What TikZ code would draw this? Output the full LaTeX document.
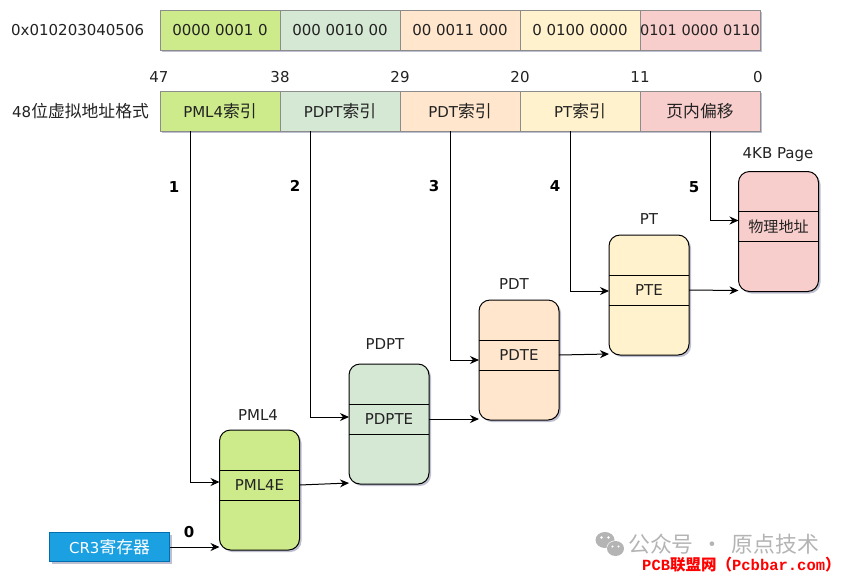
\documentclass[tikz,border=0pt]{standalone}
\usepackage{fontspec}
\setmainfont{DejaVu Sans}
\newfontfamily\cjk{Noto Sans CJK SC}[Scale=1.12]
\newfontfamily\cjkplain{Noto Sans CJK SC}
\newfontfamily\monofnt{Liberation Mono}
\usetikzlibrary{shadows,arrows.meta,calc}
\definecolor{cG}{HTML}{CDEB8B}
\definecolor{cLG}{HTML}{D5E8D4}
\definecolor{cO}{HTML}{FFE6CC}
\definecolor{cY}{HTML}{FFF2CC}
\definecolor{cP}{HTML}{F8CECC}
\definecolor{cB}{HTML}{1BA1E2}
\definecolor{cBs}{HTML}{006EAF}
\definecolor{txt}{HTML}{222222}
\definecolor{wm}{HTML}{B4B4B4}
\tikzset{
  shd/.style={drop shadow={shadow xshift=2pt,shadow yshift=-2pt,opacity=0.25,fill=black!70!blue}},
  cell/.style={draw=black!45,line width=1pt,minimum width=120pt,minimum height=40pt,inner sep=0pt,outer sep=0pt,
    font=\fontsize{15}{18}\selectfont,text=txt,shd},
  lbl/.style={font=\fontsize{15}{18}\selectfont,text=txt,inner sep=0pt},
  tbl/.style={draw=black,line width=1pt,rounded corners=11pt,minimum width=80pt,minimum height=120pt,inner sep=0pt,outer sep=0pt,shd},
  num/.style={font=\fontsize{15}{18}\selectfont\bfseries,text=black,inner sep=0pt},
  arr/.style={line width=1pt,-{Stealth[length=9pt,width=8pt]}},
}
\begin{document}
\begin{tikzpicture}[x=1pt,y=-1pt]
\useasboundingbox (0,0) rectangle (845,579);

% row 1
\node[lbl,anchor=west] (hex) at (11,30) {0x010203040506};
\node[cell,fill=cG]  (a1) at (220,30) {0000 0001 0};
\node[cell,fill=cLG] (a2) at (340,30) {000 0010 00};
\node[cell,fill=cO]  (a3) at (460,30) {00 0011 000};
\node[cell,fill=cY]  (a4) at (580,30) {0 0100 0000};
\node[cell,fill=cP,font=\fontsize{14.5}{18}\selectfont]  (a5) at (700,30) {0101 0000 0110};

% bit numbers
\node[lbl] (n47) at (159,77) {47};
\node[lbl] (n38) at (280,77) {38};
\node[lbl] (n29) at (400,77) {29};
\node[lbl] (n20) at (520,77) {20};
\node[lbl] (n11) at (640,77) {11};
\node[lbl] (n0)  at (758,77) {0};

% row 2
\node[lbl,anchor=west] (fmt) at (12,111) {48{\cjk 位虚拟地址格式}};
\node[cell,fill=cG]  (b1) at (220,111) {PML4{\cjk 索引}};
\node[cell,fill=cLG] (b2) at (340,111) {PDPT{\cjk 索引}};
\node[cell,fill=cO]  (b3) at (460,111) {PDT{\cjk 索引}};
\node[cell,fill=cY]  (b4) at (580,111) {PT{\cjk 索引}};
\node[cell,fill=cP]  (b5) at (700,111) {\cjk 页内偏移};

% tables
\node[tbl,fill=cG]  (t1) at (259.5,490) {};
\node[tbl,fill=cLG] (t2) at (389,424) {};
\node[tbl,fill=cO]  (t3) at (519,360) {};
\node[tbl,fill=cY]  (t4) at (649,295) {};
\node[tbl,fill=cP]  (t5) at (778.5,231.5) {};

\node[lbl] (h1) at (258,415) {PML4};
\node[lbl] (h2) at (385,344) {PDPT};
\node[lbl] (h3) at (514,284) {PDT};
\node[lbl] (h4) at (649,219) {PT};
\node[lbl] (h5) at (778,155) {4KB Page};

% dividers and entries
\foreach \t in {t1,t2,t3,t4,t5}{
  \draw[line width=1pt] ($(\t.north west)+(0,40)$) -- ($(\t.north east)+(0,40)$);
  \draw[line width=1pt] ($(\t.north west)+(0,70)$) -- ($(\t.north east)+(0,70)$);
}
\node[lbl] (e1) at ($(t1.north)+(0,55)$) {PML4E};
\node[lbl] (e2) at ($(t2.north)+(0,55)$) {PDPTE};
\node[lbl] (e3) at ($(t3.north)+(0,55)$) {PDTE};
\node[lbl] (e4) at ($(t4.north)+(0,55)$) {PTE};
\node[lbl,font=\fontsize{13.5}{16}\selectfont\cjk] (e5) at ($(t5.north)+(0,55)$) {物理地址};

% index connectors
\draw[arr] ($(b1.south)+(-30,0)$) |- ($(t1.north west)+(0,52)$);
\draw[arr] ($(b2.south)+(-30,0)$) |- ($(t2.north west)+(0,53)$);
\draw[arr] ($(b3.south)+(-10,0)$) |- ($(t3.north west)+(0,60)$);
\draw[arr] ($(b4.south)+(-10,0)$) |- ($(t4.north west)+(0,56)$);
\draw[arr] ($(b5.south)+(10,0)$) |- ($(t5.north west)+(0,49)$);

\node[num] (l1) at (174,187) {1};
\node[num] (l2) at (295,186) {2};
\node[num] (l3) at (434,186) {3};
\node[num] (l4) at (555,186) {4};
\node[num] (l5) at (694,187) {5};

% table to table
\draw[arr] (t1.east |- e1) -- ($(t2.south west)+(0,-1)$);
\draw[arr] (t2.east |- e2) -- ($(t3.south west)+(0,-1)$);
\draw[arr] (t3.east |- e3) -- ($(t4.south west)+(0,-1)$);
\draw[arr] (t4.east |- e4) -- ($(t5.south west)+(0,-1)$);

% CR3
\node[draw=cBs,fill=cB,line width=1pt,minimum width=120pt,minimum height=29pt,inner sep=0pt,
  text=white,font=\fontsize{15}{18}\selectfont,shd] (cr3) at (109.5,547) {CR3{\cjk 寄存器}};
\draw[arr] (cr3.east) -- (cr3.east -| t1.west);
\node[num] (l0) at (189,532) {0};

% watermark
\fill[wm] (605,540) ellipse [x radius=9.5, y radius=8];
\draw[white,line width=1.2pt] (615.5,548.5) ellipse [x radius=8.5, y radius=7.5];
\fill[wm] (615.5,548.5) ellipse [x radius=8.5, y radius=7.5];
\fill[white] (601.5,537.5) circle (1.4) (608.5,537.5) circle (1.4) (612.5,546.5) circle (1.1) (618.5,546.5) circle (1.1);
\node[anchor=west,inner sep=0pt,text=wm,font=\fontsize{19.5}{22}\selectfont\cjk] (wm1) at (628,544) {公众号\hspace{8pt}·\hspace{8pt}原点技术};
\node[anchor=west,inner sep=0pt,text=red,font=\fontsize{15.5}{19}\selectfont\bfseries] (wm2) at (642,565)
  {{\monofnt\bfseries PCB}{\cjkplain\bfseries 联盟网（}{\monofnt\bfseries Pcbbar.com}{\cjkplain\bfseries ）}};
\end{tikzpicture}
\end{document}
